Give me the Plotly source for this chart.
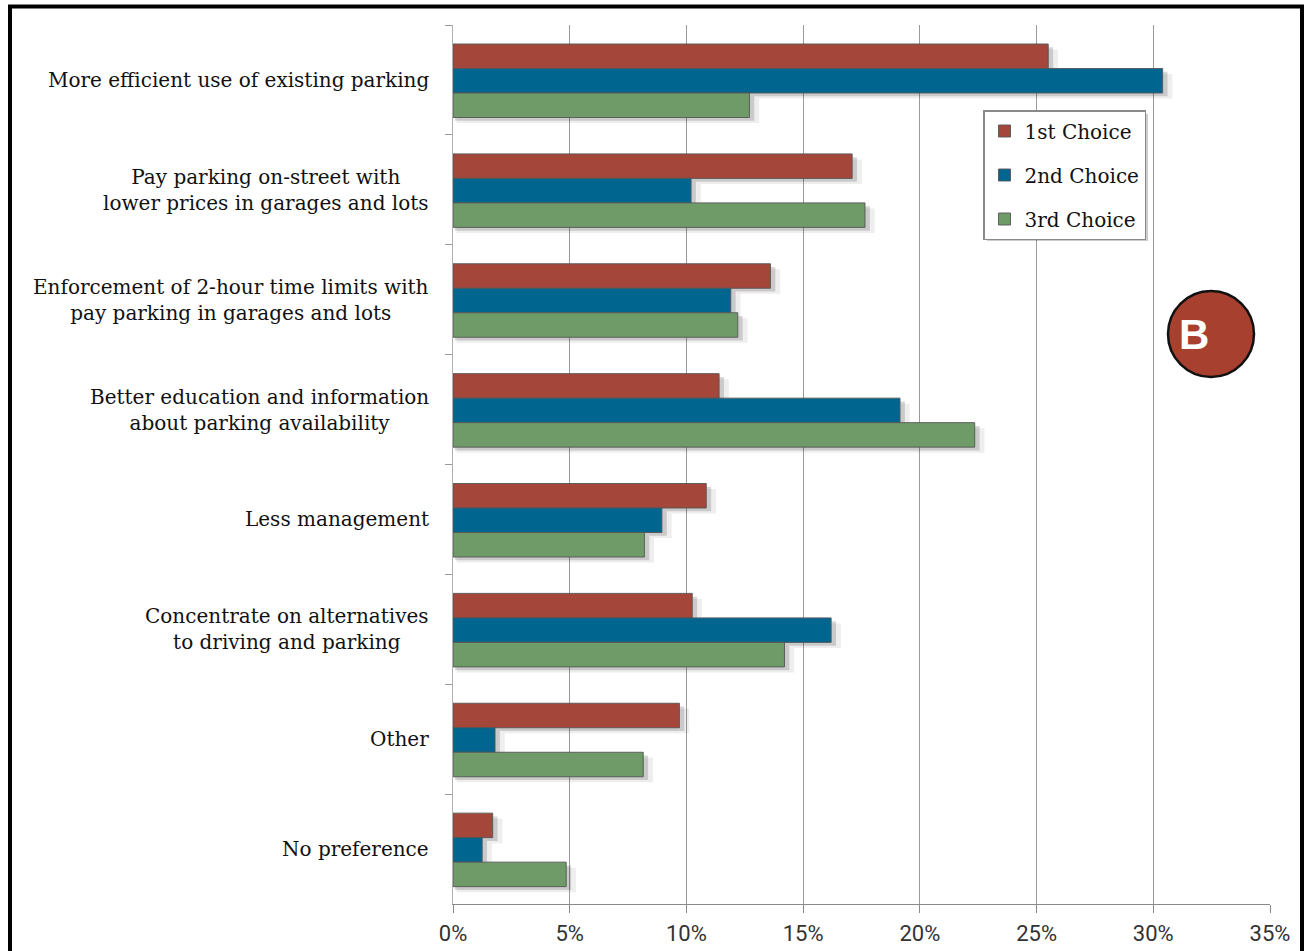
import plotly.graph_objects as go

# Survey responses: share of respondents picking each option (percent)
categories = [
    "More efficient use of existing parking",
    "Pay parking on-street with<br>lower prices in garages and lots",
    "Enforcement of 2-hour time limits with<br>pay parking in garages and lots",
    "Better education and information<br>about parking availability",
    "Less management",
    "Concentrate on alternatives<br>to driving and parking",
    "Other",
    "No preference",
]
first_choice = [25.5, 17.1, 13.6, 11.4, 10.85, 10.25, 9.7, 1.7]
second_choice = [30.4, 10.2, 11.9, 19.15, 8.95, 16.2, 1.8, 1.25]
third_choice = [12.7, 17.65, 12.2, 22.35, 8.2, 14.2, 8.15, 4.85]
series_names = ["1st Choice", "2nd Choice", "3rd Choice"]
x_ticks = [0, 5, 10, 15, 20, 25, 30, 35]
x_tick_labels = ["0%", "5%", "10%", "15%", "20%", "25%", "30%", "35%"]

series_values = [first_choice, second_choice, third_choice]
series_colors = ["#A4473A", "#00668F", "#6F9B69"]
bar_offsets = [-0.327, -0.104, 0.119]
bar_width = 0.223

W, H = 1307, 951
ML, MR, MT, MB = 453, 37, 25, 47
PW, PH = W - ML - MR, H - MT - MB


def px_x(p):
    return (p - ML) / PW


def px_y(p):
    return (H - MB - p) / PH


serif = "DejaVu Serif, Liberation Serif, serif"
label_font = dict(family=serif, size=20, color="#111")

fig = go.Figure()

# soft drop shadows under each bar
for shade, dx, dy in [(0.08, 0.26, 0.05), (0.18, 0.13, 0.03)]:
    for vals, off in zip(series_values, bar_offsets):
        fig.add_trace(go.Bar(
            y=categories, x=[v + dx for v in vals], base=dx * 0.6,
            orientation="h", width=bar_width, offset=off + dy,
            marker=dict(color=f"rgba(40,40,40,{shade})", line=dict(width=0)),
            showlegend=False, hoverinfo="skip",
        ))

for name, vals, color, off in zip(series_names, series_values, series_colors, bar_offsets):
    fig.add_trace(go.Bar(
        y=categories, x=vals, name=name, legendgroup=name,
        orientation="h", width=bar_width, offset=off,
        marker=dict(color=color, line=dict(color="rgba(85,85,85,0.9)", width=1)),
        hoverinfo="skip",
    ))

# category labels: right-aligned against the axis, lines centred on each other
annotations = [
    dict(x=0, xref="paper", y=cat, yref="y", xanchor="right", yanchor="middle",
         xshift=-22, align="center", showarrow=False, font=label_font, text=cat)
    for cat in categories
]

# "B" badge
annotations.append(dict(
    x=px_x(1211), y=px_y(335), xref="paper", yref="paper", text="<b>B</b>",
    showarrow=False, font=dict(family="Liberation Sans, Arial, sans-serif", size=42, color="white"),
))

shapes = [
    # outer frame
    dict(type="rect", xref="paper", yref="paper",
         x0=px_x(10), x1=px_x(1302), y0=px_y(965), y1=px_y(6.5),
         line=dict(color="black", width=4), fillcolor="rgba(0,0,0,0)", layer="above"),
    # badge circle
    dict(type="circle", xref="paper", yref="paper",
         x0=px_x(1168), x1=px_x(1254), y0=px_y(377), y1=px_y(291),
         line=dict(color="#111", width=2.5), fillcolor="#A8402F", layer="above"),
    # legend shadow
    dict(type="rect", xref="paper", yref="paper",
         x0=px_x(987), x1=px_x(1148), y0=px_y(241), y1=px_y(114),
         line=dict(width=0), fillcolor="rgba(0,0,0,0.2)", layer="above"),
]

fig.update_layout(
    width=W, height=H,
    margin=dict(l=ML, r=MR, t=MT, b=MB, pad=0, autoexpand=False),
    paper_bgcolor="white", plot_bgcolor="white",
    barmode="overlay",
    showlegend=True,
    legend=dict(
        x=px_x(983), y=px_y(110), xanchor="left", yanchor="top",
        bgcolor="white", bordercolor="#8a8a8a", borderwidth=1.5,
        font=dict(family=serif, size=20, color="#111"),
        traceorder="grouped", tracegroupgap=15, itemwidth=30,
    ),
    xaxis=dict(
        range=[0, 35], tickmode="array", tickvals=x_ticks, ticktext=x_tick_labels,
        showgrid=True, gridcolor="#9a9a9a", gridwidth=1,
        showline=True, linecolor="#8a8a8a", linewidth=1,
        ticks="outside", ticklen=8, tickcolor="#8a8a8a",
        ticklabelstandoff=2, automargin=False,
        tickfont=dict(family="Roboto, sans-serif", size=22, color="#333"),
        zeroline=False, fixedrange=True,
    ),
    yaxis=dict(
        type="category", autorange="reversed",
        categoryorder="array", categoryarray=categories,
        showticklabels=False, showgrid=False, automargin=False,
        showline=True, linecolor="#b0b0b0", linewidth=1,
        ticks="outside", tickson="boundaries", ticklen=7, tickcolor="#9a9a9a",
        fixedrange=True,
    ),
    annotations=annotations,
    shapes=shapes,
)

fig.write_html("out.html")
